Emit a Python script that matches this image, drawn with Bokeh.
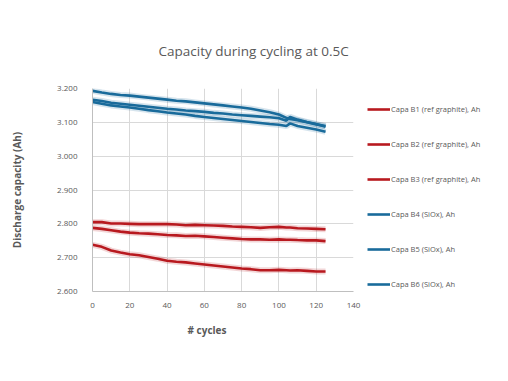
from bokeh.plotting import figure
from bokeh.models import Legend, LegendItem, Title, FixedTicker, NumeralTickFormatter, Range1d
from bokeh.embed import file_html
from bokeh.resources import INLINE

cycles = [0, 5, 10, 15, 20, 25, 30, 35, 40, 45, 50, 55, 60, 65, 70, 75, 80, 85, 90, 95, 100, 104, 106, 110, 115, 120, 125]

capa_b1 = [2.805, 2.805, 2.801, 2.801, 2.800, 2.799, 2.799, 2.799, 2.799, 2.798, 2.796, 2.797, 2.796, 2.795, 2.794, 2.792, 2.791, 2.790, 2.788, 2.790, 2.791, 2.789, 2.789, 2.787, 2.786, 2.785, 2.784]
capa_b2 = [2.788, 2.785, 2.781, 2.777, 2.774, 2.772, 2.771, 2.769, 2.767, 2.766, 2.764, 2.765, 2.763, 2.761, 2.759, 2.757, 2.755, 2.754, 2.754, 2.753, 2.754, 2.753, 2.753, 2.752, 2.751, 2.751, 2.749]
capa_b3 = [2.738, 2.732, 2.721, 2.715, 2.710, 2.707, 2.702, 2.697, 2.691, 2.688, 2.686, 2.683, 2.680, 2.677, 2.674, 2.671, 2.668, 2.666, 2.663, 2.663, 2.664, 2.663, 2.662, 2.663, 2.661, 2.659, 2.659]
capa_b4 = [3.193, 3.188, 3.184, 3.181, 3.179, 3.176, 3.173, 3.170, 3.167, 3.164, 3.162, 3.159, 3.156, 3.153, 3.150, 3.147, 3.144, 3.140, 3.135, 3.130, 3.123, 3.113, 3.110, 3.106, 3.100, 3.094, 3.089]
capa_b5 = [3.167, 3.163, 3.158, 3.155, 3.152, 3.149, 3.146, 3.143, 3.140, 3.138, 3.135, 3.133, 3.131, 3.128, 3.126, 3.123, 3.121, 3.119, 3.117, 3.115, 3.112, 3.105, 3.116, 3.108, 3.101, 3.095, 3.087]
capa_b6 = [3.160, 3.155, 3.150, 3.147, 3.144, 3.140, 3.136, 3.133, 3.129, 3.126, 3.123, 3.119, 3.116, 3.113, 3.110, 3.107, 3.104, 3.101, 3.098, 3.095, 3.093, 3.089, 3.097, 3.089, 3.084, 3.079, 3.072]

series_names = ["Capa B1 (ref graphite), Ah", "Capa B2 (ref graphite), Ah", "Capa B3 (ref graphite), Ah",
                "Capa B4 (SiOx), Ah", "Capa B5 (SiOx), Ah", "Capa B6 (SiOx), Ah"]
series_values = [capa_b1, capa_b2, capa_b3, capa_b4, capa_b5, capa_b6]
RED = "#B8191F"
BLUE = "#196B9B"
series_colors = [RED, RED, RED, BLUE, BLUE, BLUE]

x_ticks = [0, 20, 40, 60, 80, 100, 120, 140]
y_ticks = [2.6, 2.7, 2.8, 2.9, 3.0, 3.1, 3.2]

TXT = "#595959"
FONT = "Open Sans"

p = figure(frame_width=261, frame_height=203, output_backend="svg", toolbar_location=None,
           x_range=Range1d(0, 140), y_range=Range1d(2.6, 3.2))
p.min_border_left = 92
p.min_border_right = 147
p.min_border_top = 88
p.min_border_bottom = 82
p.outline_line_color = None
p.background_fill_color = "white"
p.border_fill_color = "white"

p.title.text = "Capacity during cycling at 0.5C"
p.title.align = "left"
p.title.offset = 66
p.title.standoff = 58
p.title.text_font = FONT
p.title.text_font_size = "13.5px"
p.title.text_font_style = "normal"
p.title.text_color = TXT

for ax in (p.xaxis[0], p.yaxis[0]):
    ax.major_tick_line_color = None
    ax.minor_tick_line_color = None
    ax.axis_line_color = "#BFBFBF"
    ax.major_label_text_color = TXT
    ax.major_label_text_font = FONT
    ax.major_label_text_font_size = "8px"

p.xaxis[0].ticker = FixedTicker(ticks=x_ticks)
p.yaxis[0].ticker = FixedTicker(ticks=y_ticks)
p.yaxis[0].formatter = NumeralTickFormatter(format="0.000")
p.yaxis[0].major_label_standoff = 9
p.xaxis[0].major_label_standoff = 5

p.yaxis[0].axis_label = "Discharge capacity (Ah)"
p.yaxis[0].axis_label_standoff = 30
p.yaxis[0].axis_label_text_font = FONT
p.yaxis[0].axis_label_text_font_size = "10px"
p.yaxis[0].axis_label_text_font_style = "bold"
p.yaxis[0].axis_label_text_color = TXT

p.xgrid.ticker = FixedTicker(ticks=x_ticks)
p.ygrid.ticker = FixedTicker(ticks=y_ticks)
p.xgrid.grid_line_color = "#D9D9D9"
p.ygrid.grid_line_color = "#D9D9D9"

items = []
for name, vals, col in zip(series_names, series_values, series_colors):
    p.line(cycles, vals, line_color=col, line_width=6, line_alpha=0.18)
    r = p.line(cycles, vals, line_color=col, line_width=2.6)
    items.append(LegendItem(label=name, renderers=[r]))

legend = Legend(items=items, location="top_left", orientation="vertical")
legend.glyph_width = 23
legend.glyph_height = 14
legend.label_height = 14
legend.spacing = 21
legend.padding = 0
legend.margin = 14
legend.label_standoff = 1
legend.border_line_color = None
legend.background_fill_alpha = 0
legend.label_text_font = FONT
legend.label_text_font_size = "7.5px"
legend.label_text_color = TXT
p.add_layout(legend, "right")

xlab = Title(text="# cycles", align="left", offset=95, standoff=24, vertical_align="top",
             text_font=FONT, text_font_size="10px", text_font_style="bold", text_color=TXT)
p.add_layout(xlab, "below")

open("out.html", "w").write(file_html(p, INLINE))
